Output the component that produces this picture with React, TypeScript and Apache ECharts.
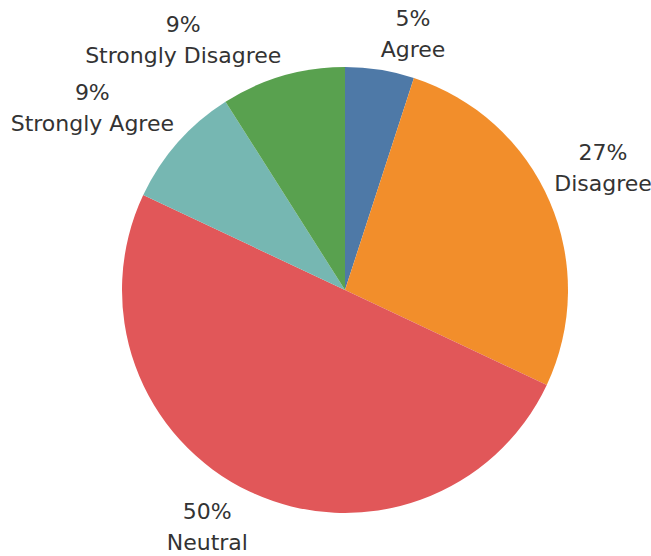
import React, { useEffect, useRef } from "react";
import * as echarts from "echarts";

const categories = ["Agree", "Disagree", "Neutral", "Strongly Agree", "Strongly Disagree"];
const values = [5, 27, 50, 9, 9];
const colors = ["#4E79A7", "#F28E2B", "#E15759", "#76B7B2", "#59A14F"];

export default function App() {
  const ref = useRef<HTMLDivElement>(null);
  useEffect(() => {
    document.body.style.margin = "0";
    const chart = echarts.init(ref.current!, null, { renderer: "svg" });
    const cx = 345;
    const cy = 290;
    const R = 223;
    const gap = 5;
    const total = values.reduce((a, b) => a + b, 0);
    const mids: number[] = [];
    let acc = 0;
    values.forEach((v) => {
      mids.push(((acc + v / 2) / total) * Math.PI * 2);
      acc += v;
    });
    chart.setOption({
      animation: false,
      backgroundColor: "#ffffff",
      series: [
        {
          type: "pie",
          center: [cx, cy],
          radius: R,
          startAngle: 90,
          clockwise: true,
          data: categories.map((c, i) => ({ name: c, value: values[i], itemStyle: { color: colors[i] } })),
          label: {
            show: true,
            position: "outside",
            formatter: (p: any) => `${Math.round(p.percent)}%\n${p.name}`,
            fontFamily: "DejaVu Sans",
            fontSize: 22,
            lineHeight: 31,
            color: "#333333",
            overflow: "none",
          },
          labelLine: { show: false, length: 20, length2: 0 },
          labelLayout: (p: any) => {
            const a = mids[p.dataIndex];
            const s = Math.sin(a);
            const c = Math.cos(a);
            const px = cx + (R + gap) * s;
            const py = cy - (R + gap) * c;
            const w = p.labelRect.width;
            const h = p.labelRect.height;
            return {
              x: px + (s >= 0 ? w / 2 : -w / 2),
              y: py + (c >= 0 ? -h / 2 : h / 2),
              align: "center",
              verticalAlign: "middle",
            };
          },
        },
      ],
    });
    return () => chart.dispose();
  }, []);
  return <div ref={ref} style={{ width: 651, height: 556 }} />;
}
